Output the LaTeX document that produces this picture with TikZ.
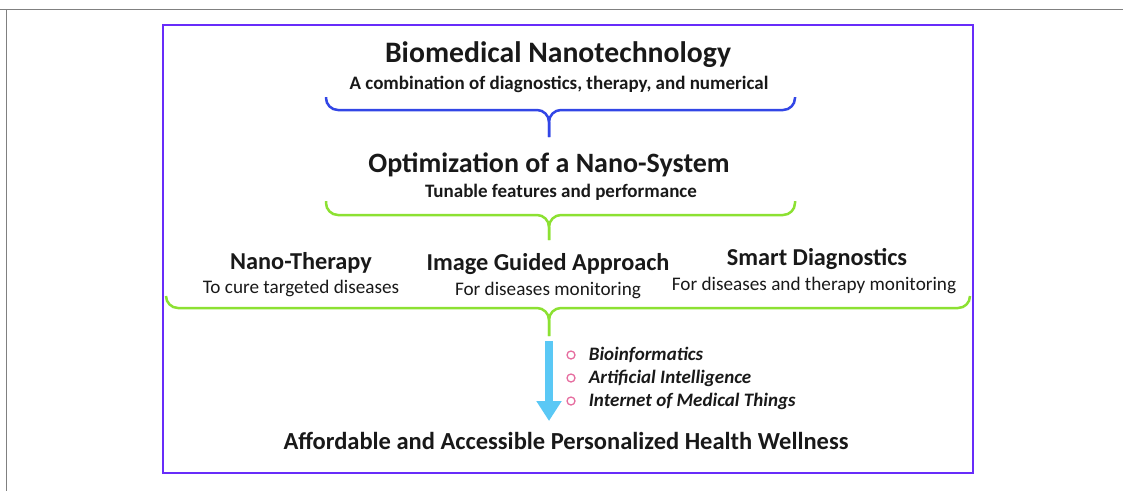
\documentclass[tikz,border=0pt]{standalone}
\usepackage{fontspec}
\setmainfont{Carlito}
\usetikzlibrary{positioning, arrows.meta}

\definecolor{framepurple}{RGB}{104,44,250}
\definecolor{braceblue}{RGB}{50,70,230}
\definecolor{bracegreen}{RGB}{140,225,50}
\definecolor{flowblue}{RGB}{90,200,245}
\definecolor{dotpink}{RGB}{230,110,160}
\definecolor{inktext}{RGB}{25,25,25}

\begin{document}
\begin{tikzpicture}[
        x=1pt, y=-1pt,
        node distance=6pt,
        heading/.style={font=\bfseries\fontsize{28}{30}\selectfont, text=inktext, inner sep=0pt},
        subline/.style={font=\bfseries\fontsize{19}{21}\selectfont, text=inktext, inner sep=0pt},
        branch/.style={font=\bfseries\fontsize{24.3}{26}\selectfont, text=inktext, inner sep=0pt},
        branchsub/.style={font=\fontsize{19.2}{21}\selectfont, text=inktext, inner sep=0pt},
        tool/.style={font=\bfseries\itshape\fontsize{19}{21}\selectfont, text=inktext, anchor=west, inner sep=0pt},
        bullet/.style={circle, draw=dotpink, line width=1.3pt, minimum size=8pt, inner sep=0pt},
        brace/.style={line width=2.5pt, rounded corners=12pt},
        flow/.style={draw=flowblue, line width=8pt, -{Triangle[width=24pt, length=20pt]}}
    ]
        \useasboundingbox (0,0) rectangle (1123,491);
        % Outer frame and box
        \draw[gray, line width=1.2pt] (0,9.5) -- (1123,9.5);
        \draw[gray, line width=1.2pt] (6.5,9.5) -- (6.5,491);
        \draw[framepurple, line width=2.5pt] (163,25) rectangle (973,473);

        % Nodes
        \node (title) [heading, font=\bfseries\fontsize{29.7}{31}\selectfont] at (558,55) {Biomedical Nanotechnology};
        \node (titlesub) [subline] at (559,84) {A combination of diagnostics, therapy, and numerical};
        \node (optim) [heading] at (549,165) {Optimization of a Nano-System};
        \node (optimsub) [subline] at (561,192) {Tunable features and performance};

        \node (therapy) [branch] at (301,263) {Nano-Therapy};
        \node (therapysub) [branchsub] at (301,288) {To cure targeted diseases};
        \node (imaging) [branch] at (548,264) {Image Guided Approach};
        \node (imagingsub) [branchsub] at (548,290) {For diseases monitoring};
        \node (diag) [branch] at (817,259) {Smart Diagnostics};
        \node (diagsub) [branchsub] at (814,285) {For diseases and therapy monitoring};

        \node (dotbio) [bullet] at (571,355) {};
        \node (dotai) [bullet] at (571,378) {};
        \node (dotiomt) [bullet] at (571,401) {};
        \node (bio) [tool, right=13pt of dotbio] {Bioinformatics};
        \node (ai) [tool, right=13pt of dotai] {Artificial Intelligence};
        \node (iomt) [tool, right=13pt of dotiomt] {Internet of Medical Things};

        \node (wellness) [branch, font=\bfseries\fontsize{24.5}{26}\selectfont] at (566,441) {Affordable and Accessible Personalized Health Wellness};

        % Braces
        \draw[brace, braceblue] (326,97) -- (326,110) -- (549,110) -- (549,137);
        \draw[brace, braceblue] (795,97) -- (795,110) -- (549,110) -- (549,137);
        \draw[brace, bracegreen] (326,201) -- (326,215) -- (549,215) -- (549,240);
        \draw[brace, bracegreen] (795,201) -- (795,215) -- (549,215) -- (549,240);
        \draw[brace, bracegreen] (166,296) -- (166,308) -- (549,308) -- (549,336);
        \draw[brace, bracegreen] (970,296) -- (970,308) -- (549,308) -- (549,336);

        % Arrow
        \coordinate (flowtop) at (549,341);
        \draw[flow] (flowtop) -- (flowtop |- 0,421);
    \end{tikzpicture}
\end{document}
